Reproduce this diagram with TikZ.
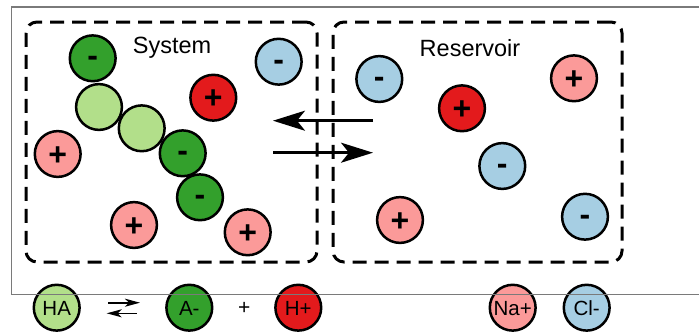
\documentclass[tikz,border=0pt]{standalone}
\usepackage{fontspec}
\setmainfont{Liberation Sans}
\usetikzlibrary{arrows.meta}
\definecolor{cLg}{HTML}{B2DF8A}
\definecolor{cG}{HTML}{33A02C}
\definecolor{cR}{HTML}{E31A1C}
\definecolor{cP}{HTML}{FB9A99}
\definecolor{cB}{HTML}{A6CEE3}
\definecolor{cFrame}{HTML}{7A7A7A}
\begin{document}
\begin{tikzpicture}[x=1pt,y=-1pt,
  ion/.style={circle,draw=black,line width=2.5pt,minimum size=45.8pt,inner sep=0pt},
  posion/.style={ion,font=\fontsize{32}{32}\selectfont\bfseries,text height=22pt,text depth=0pt},
  negion/.style={ion,font=\fontsize{32}{32}\selectfont\bfseries,text height=17pt,text depth=0pt},
  legion/.style={ion,font=\fontsize{20.5}{20.5}\selectfont,text height=14.7pt,text depth=0pt},
  dbox/.style={draw=black,line width=3pt,dash pattern=on 14pt off 8pt,rounded corners=11pt,inner sep=0pt},
  boxtitle/.style={font=\fontsize{23.5}{23.5}\selectfont},
  bigarrow/.style={line width=2.7pt,-{Stealth[length=32pt,width=20pt,inset=8pt]}},
  smallarrow/.style={line width=1.6pt,-{Stealth[length=15pt,width=8pt,inset=4pt]}}]
\useasboundingbox (0,0) rectangle (699,333);
% boxes
\node[dbox,minimum width=291pt,minimum height=240pt] (sys) at (171.5,142) {};
\node[dbox,minimum width=289pt,minimum height=240pt] (res) at (477.5,142) {};
\node[boxtitle] (systxt) at (172,47.7) {System};
\node[boxtitle] (restxt) at (470,48.3) {Reservoir};
% system particles
\node[ion,fill=cLg] (s1) at (99,107) {};
\node[ion,fill=cLg] (s2) at (141.7,128.3) {};
\node[negion,fill=cG] (s3) at (92.7,58.3) {-};
\node[negion,fill=cG] (s4) at (182.7,153.3) {-};
\node[negion,fill=cG] (s5) at (200,197.3) {-};
\node[posion,fill=cP] (s6) at (57.7,154) {+};
\node[posion,fill=cP] (s7) at (134,225) {+};
\node[posion,fill=cP] (s8) at (247.7,232.3) {+};
\node[posion,fill=cR] (s9) at (213.3,97.7) {+};
\node[negion,fill=cB] (s10) at (278.7,61.7) {-};
% reservoir particles
\node[negion,fill=cB] (r1) at (379.3,79) {-};
\node[posion,fill=cR] (r2) at (462,108.3) {+};
\node[posion,fill=cP] (r3) at (574,78.3) {+};
\node[negion,fill=cB] (r4) at (502.3,166) {-};
\node[posion,fill=cP] (r5) at (400,220) {+};
\node[negion,fill=cB] (r6) at (585,216.7) {-};
% exchange arrows
\coordinate (a1s) at (373,120.7);
\coordinate (a1e) at (273,120.7);
\coordinate (a2s) at (273,152.7);
\coordinate (a2e) at (373,152.7);
\draw[bigarrow] (a1s) -- (a1e);
\draw[bigarrow] (a2s) -- (a2e);
% legend
\node[legion,fill=cLg] (lHA) at (56.7,307.7) {HA};
\node[legion,fill=cG] (lA) at (189.3,307.7) {A-};
\node[font=\fontsize{21}{21}\selectfont] (lplus) at (244.3,308) {+};
\node[legion,fill=cR] (lH) at (298.3,307.7) {H+};
\node[legion,fill=cP] (lNa) at (512.7,307.7) {Na+};
\node[legion,fill=cB] (lCl) at (586.7,307.7) {Cl-};
\coordinate (e1s) at (108.3,302.7);
\coordinate (e1e) at (140,302.7);
\coordinate (e2s) at (136.7,313.3);
\coordinate (e2e) at (106.7,313.3);
\draw[smallarrow] (e1s) -- (e1e);
\draw[smallarrow] (e2s) -- (e2e);
% outer frame
\draw[cFrame,line width=1.3pt] (705,7) -- (11.7,7) -- (11.7,294.7) -- (705,294.7);
\end{tikzpicture}
\end{document}
